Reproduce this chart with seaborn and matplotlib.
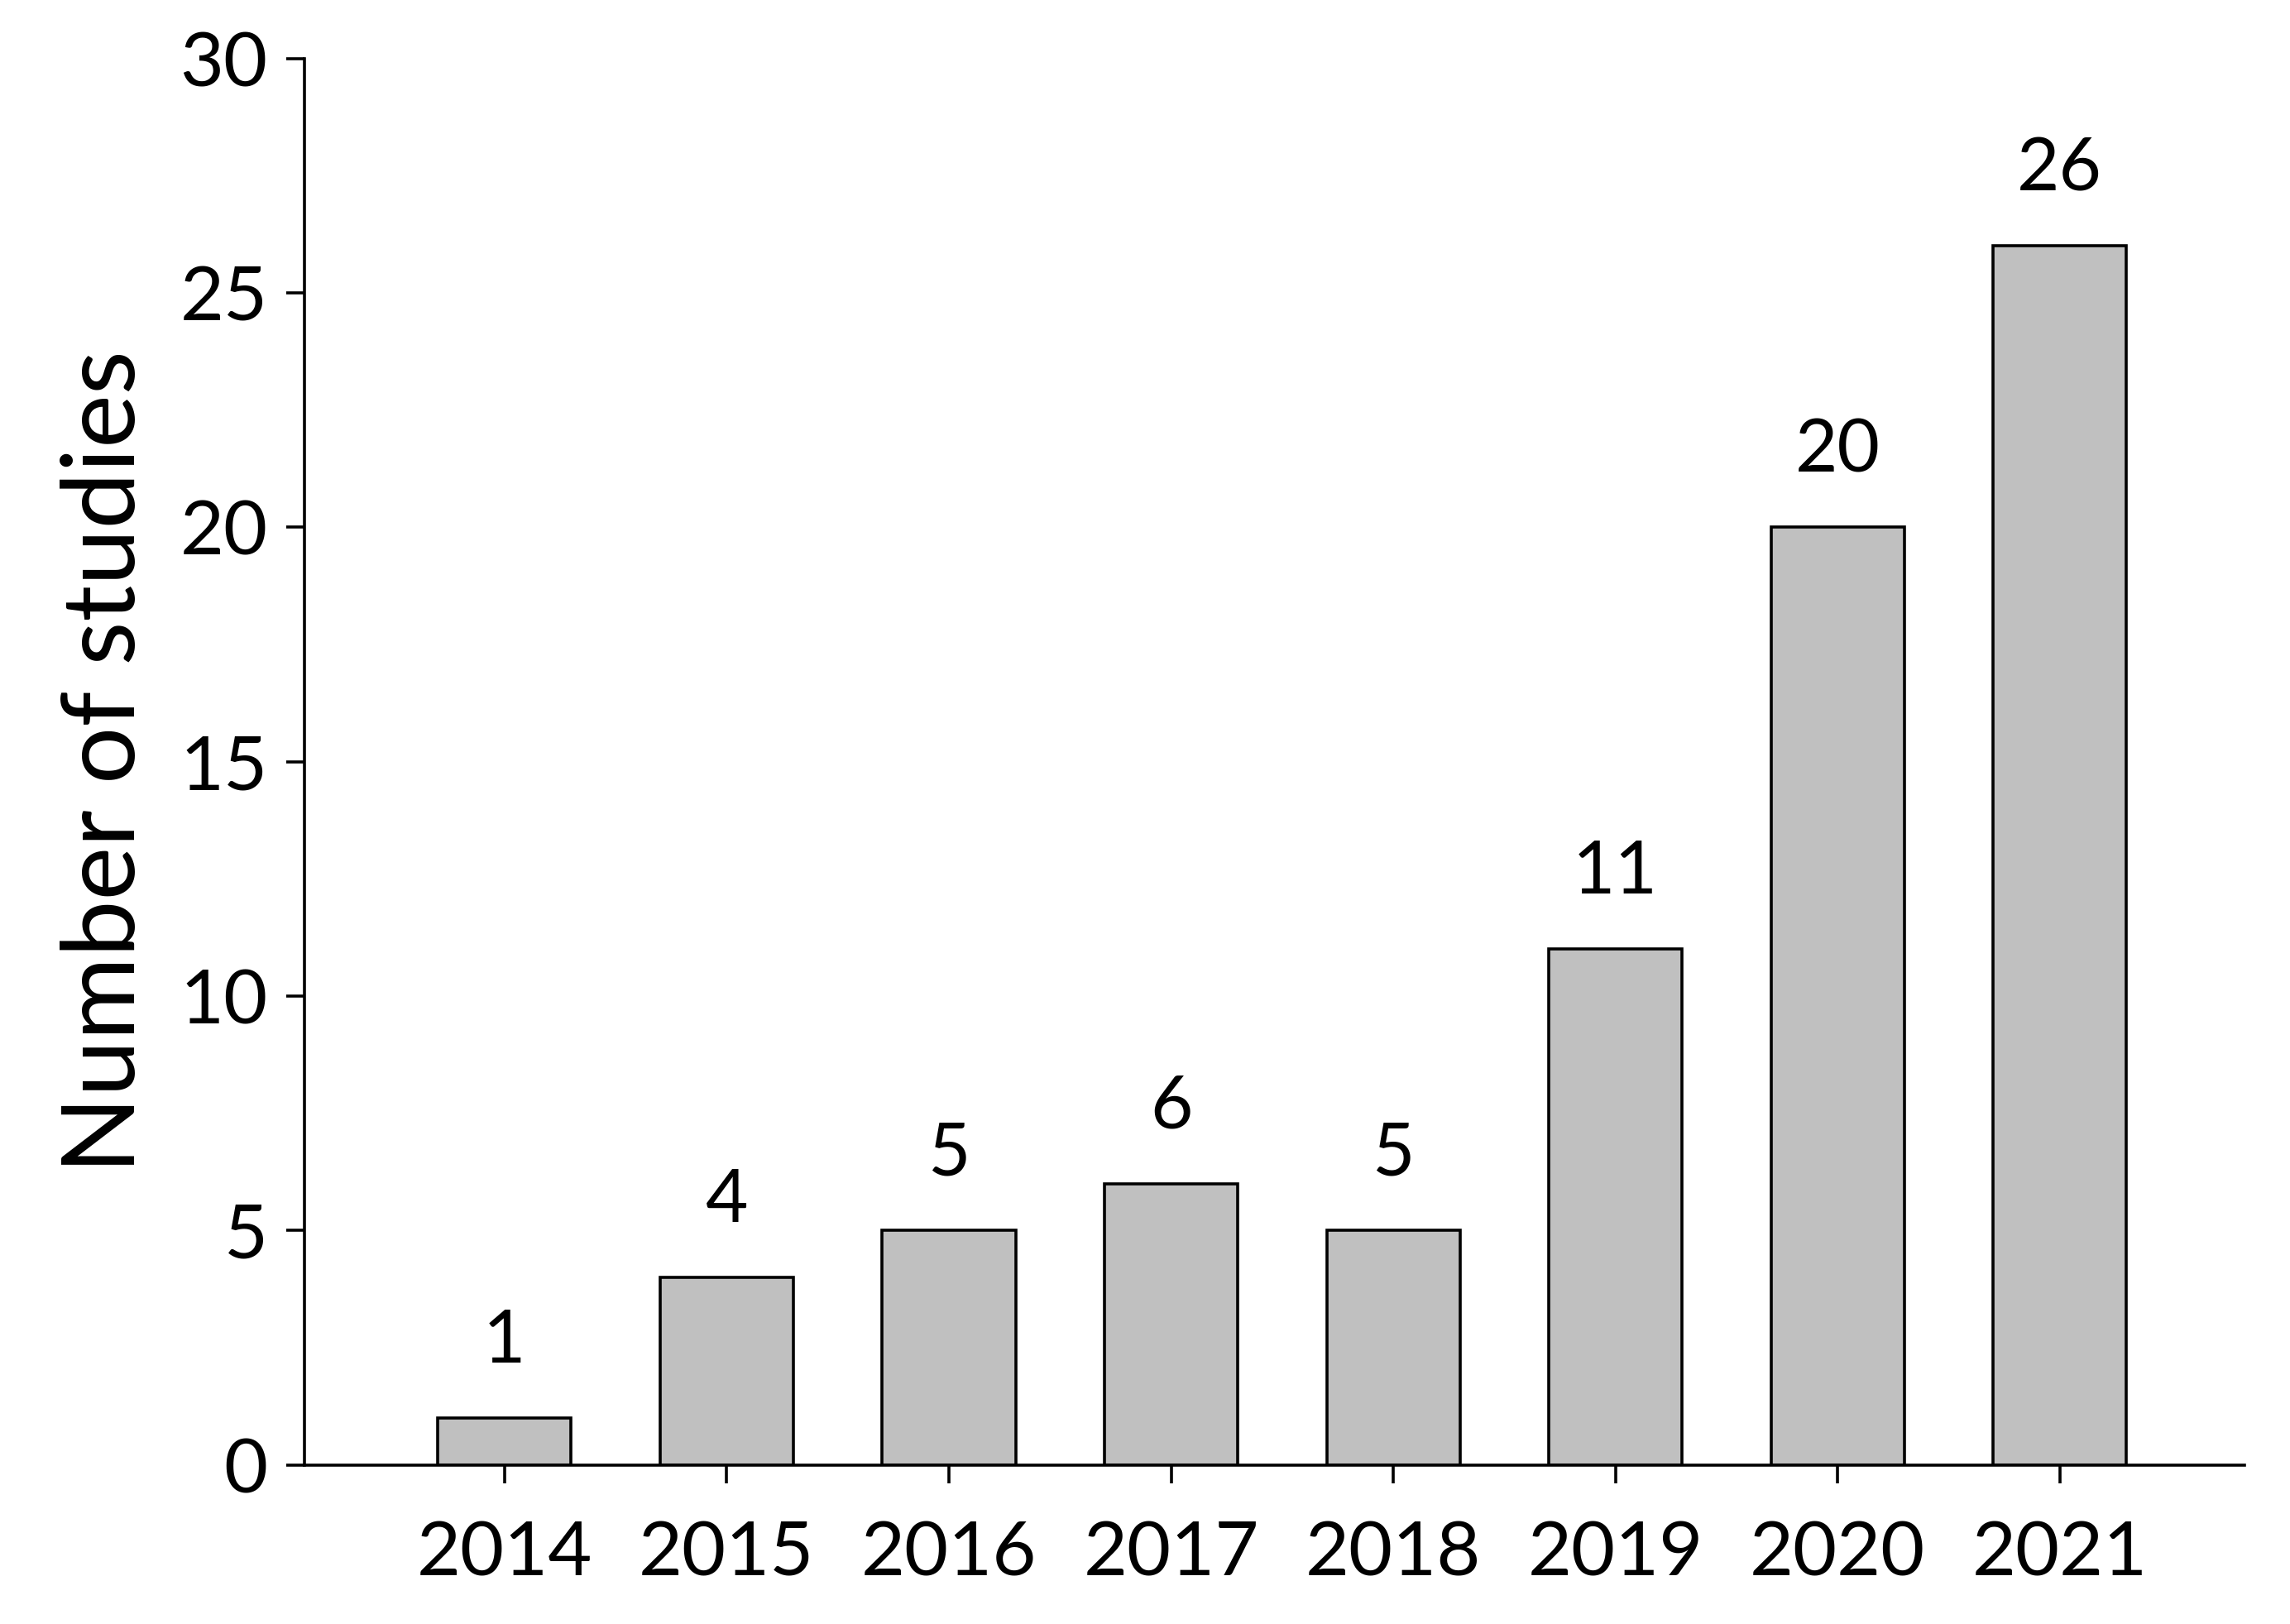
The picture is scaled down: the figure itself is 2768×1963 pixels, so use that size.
import pandas as pd
import matplotlib.pyplot as plt
import seaborn as sns

years = ["2014", "2015", "2016", "2017", "2018", "2019", "2020", "2021"]
studies = [1, 4, 5, 6, 5, 11, 20, 26]

df = pd.DataFrame({"Year": years, "Studies": studies})

sns.set_style("ticks")
plt.rcParams['font.family'] = ['Lato', 'DejaVu Sans']
plt.rcParams['text.color'] = 'black'
plt.rcParams['axes.labelcolor'] = 'black'
plt.rcParams['xtick.color'] = 'black'
plt.rcParams['ytick.color'] = 'black'
plt.rcParams['axes.edgecolor'] = 'black'

fig, ax = plt.subplots(figsize=(13.84, 9.815), dpi=200)
fig.subplots_adjust(left=0.133, right=0.980, top=0.964, bottom=0.098)

sns.barplot(data=df, x="Year", y="Studies", color="#c0c0c0", edgecolor="black",
            linewidth=1.3, width=0.6, saturation=1, ax=ax)

# value labels above bars
for i, v in enumerate(studies):
    ax.text(i, v + 0.9, str(v), ha="center", va="bottom", fontsize=32)

ax.set_xlim(-0.9, 7.83)
ax.set_ylim(0, 30)
ax.set_yticks(range(0, 31, 5))
ax.set_xlabel("")
ax.set_ylabel("Number of studies", fontsize=44, labelpad=12)
ax.tick_params(axis="both", labelsize=33, direction="out", length=8, width=1.3, pad=8)
ax.tick_params(axis="x", pad=16)
for s in ["left", "bottom"]:
    ax.spines[s].set_linewidth(1.3)
ax.spines["top"].set_visible(False)
ax.spines["right"].set_visible(False)

fig.savefig("out.png")
